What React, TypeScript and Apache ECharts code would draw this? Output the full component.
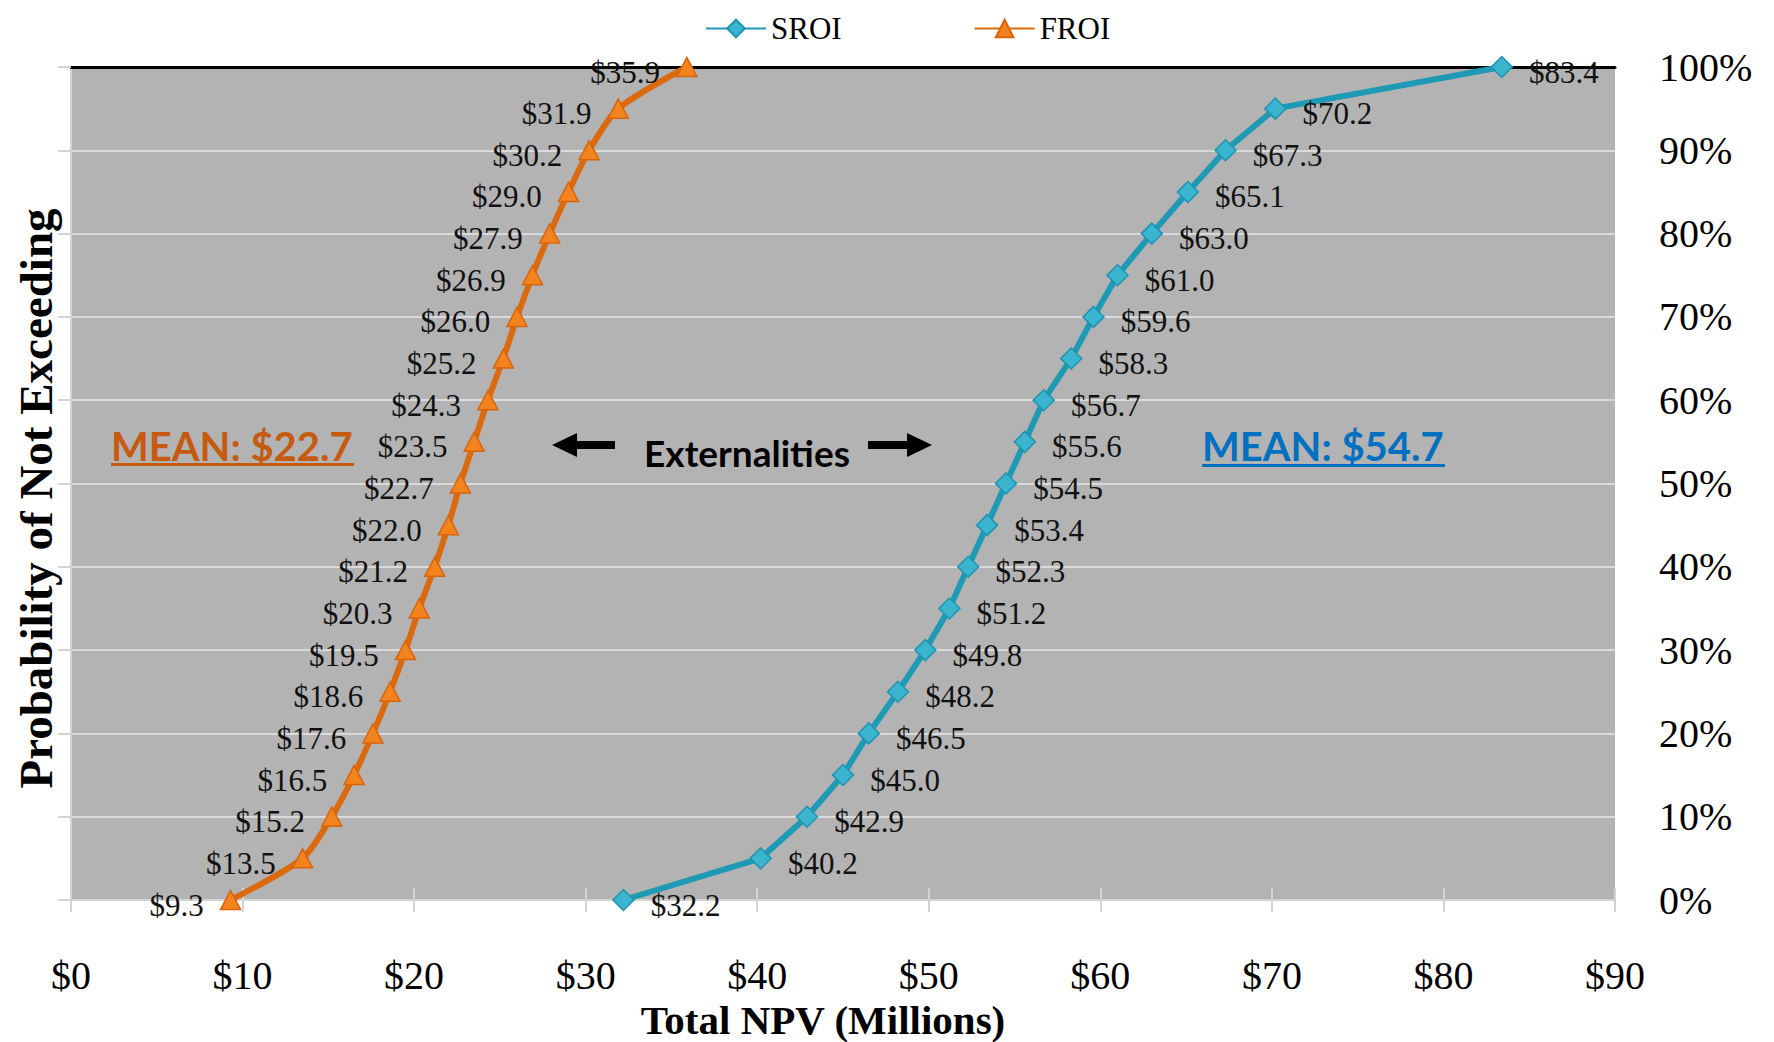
import React, { useEffect, useRef } from "react";
import * as echarts from "echarts";

const PROBABILITY = [0, 5, 10, 15, 20, 25, 30, 35, 40, 45, 50, 55, 60, 65, 70, 75, 80, 85, 90, 95, 100];
const SROI_VALUES = [32.2, 40.2, 42.9, 45.0, 46.5, 48.2, 49.8, 51.2, 52.3, 53.4, 54.5, 55.6, 56.7, 58.3, 59.6, 61.0, 63.0, 65.1, 67.3, 70.2, 83.4];
const FROI_VALUES = [9.3, 13.5, 15.2, 16.5, 17.6, 18.6, 19.5, 20.3, 21.2, 22.0, 22.7, 23.5, 24.3, 25.2, 26.0, 26.9, 27.9, 29.0, 30.2, 31.9, 35.9];
const SERIES_NAMES = ["SROI", "FROI"];
const X_TITLE = "Total NPV (Millions)";
const Y_TITLE = "Probability of Not Exceeding";
const MEAN_FROI = "MEAN: $22.7";
const MEAN_SROI = "MEAN: $54.7";
const CENTER_NOTE = "Externalities";

const SERIF = "'Liberation Serif', 'DejaVu Serif', serif";
const SANS = "Lato, 'Open Sans', sans-serif";
const LIGHT = "#D4D4D4";

export default function App() {
  const ref = useRef<HTMLDivElement>(null);

  useEffect(() => {
    if (!ref.current) return;
    const chart = echarts.init(ref.current, null, { renderer: "svg" });

    const sroiData = PROBABILITY.map((p, i) => [SROI_VALUES[i], p]);
    const froiData = PROBABILITY.map((p, i) => [FROI_VALUES[i], p]);

    const labelFmt = (p: any) => "$" + Number(p.value[0]).toFixed(1);

    chart.setOption({
      animation: false,
      backgroundColor: "#ffffff",
      grid: {
        left: 71,
        right: 159,
        top: 67,
        bottom: 142,
        containLabel: false,
        outerBoundsMode: "none",
        show: true,
        backgroundColor: "#B3B3B3",
        borderWidth: 0,
      },
      legend: {
        data: SERIES_NAMES,
        left: 700,
        top: 8,
        itemWidth: 60,
        itemHeight: 22,
        itemGap: 132,
        textStyle: { fontFamily: SERIF, fontSize: 31, color: "#000" },
      },
      xAxis: [
        {
          type: "value",
          position: "bottom",
          min: 0,
          max: 90,
          interval: 10,
          axisLine: { show: true, lineStyle: { color: LIGHT, width: 2 } },
          axisTick: { show: true, length: 12, lineStyle: { color: LIGHT, width: 2 } },
          axisLabel: {
            formatter: (v: number) => "$" + v,
            fontFamily: SERIF,
            fontSize: 40,
            color: "#000",
            margin: 55,
          },
          splitLine: { show: false },
          name: X_TITLE,
          nameLocation: "middle",
          nameGap: 93,
          nameTextStyle: {
            fontFamily: SERIF,
            fontWeight: "bold",
            fontSize: 41,
            color: "#000",
            padding: [0, 40, 0, 0],
          },
        },
        {
          type: "value",
          position: "bottom",
          min: 0,
          max: 90,
          interval: 10,
          axisLine: { show: false },
          axisTick: { show: true, inside: true, length: 12, lineStyle: { color: LIGHT, width: 2 } },
          axisLabel: { show: false },
          splitLine: { show: false },
        },
        {
          type: "value",
          position: "top",
          min: 0,
          max: 90,
          interval: 10,
          axisLine: { show: true, lineStyle: { color: "#000", width: 3 } },
          axisTick: { show: false },
          axisLabel: { show: false },
          splitLine: { show: false },
        },
      ],
      yAxis: [
        {
          type: "value",
          position: "right",
          min: 0,
          max: 100,
          interval: 10,
          axisLine: { show: true, lineStyle: { color: "#000", width: 2 } },
          axisTick: { show: false },
          axisLabel: {
            formatter: "{value}%",
            fontFamily: SERIF,
            fontSize: 40,
            color: "#000",
            margin: 44,
            padding: [14, 0, 0, 0],
          },
          splitLine: { show: true, lineStyle: { color: "#DADADA", width: 2 } },
        },
        {
          type: "value",
          position: "left",
          min: 0,
          max: 100,
          interval: 10,
          axisLine: { show: true, lineStyle: { color: LIGHT, width: 2 } },
          axisTick: { show: true, length: 13, lineStyle: { color: LIGHT, width: 2 } },
          axisLabel: { show: false },
          splitLine: { show: false },
          name: Y_TITLE,
          nameLocation: "middle",
          nameGap: 12,
          nameTextStyle: {
            fontFamily: SERIF,
            fontWeight: "bold",
            fontSize: 47,
            color: "#000",
            padding: [0, 30, 0, 0],
          },
        },
      ],
      series: [
        {
          name: SERIES_NAMES[0],
          type: "line",
          xAxisIndex: 0,
          yAxisIndex: 0,
          data: sroiData,
          symbol: "diamond",
          symbolSize: [21, 21],
          lineStyle: { color: "#1F9AB5", width: 6 },
          itemStyle: { color: "#3BB4D0", borderColor: "#1E94AF", borderWidth: 1.5 },
          label: {
            show: true,
            position: "right",
            distance: 16,
            offset: [0, 5],
            formatter: labelFmt,
            fontFamily: SERIF,
            fontSize: 31,
            color: "#111",
          },
          z: 3,
        },
        {
          name: SERIES_NAMES[1],
          type: "line",
          xAxisIndex: 0,
          yAxisIndex: 0,
          data: froiData,
          smooth: 0.25,
          symbol: "triangle",
          symbolSize: [20, 19],
          lineStyle: { color: "#DA6A0D", width: 6 },
          itemStyle: { color: "#F3831F", borderColor: "#D9650A", borderWidth: 1.5 },
          label: {
            show: true,
            position: "left",
            distance: 16,
            offset: [0, 5],
            formatter: labelFmt,
            fontFamily: SERIF,
            fontSize: 31,
            color: "#111",
          },
          z: 3,
        },
      ],
      graphic: [
        {
          type: "text",
          x: 111,
          y: 446,
          style: {
            text: MEAN_FROI,
            font: "bold 40px " + SANS,
            fill: "#C55A11",
            textVerticalAlign: "middle",
          },
          z: 10,
        },
        {
          type: "rect",
          shape: { x: 111, y: 463, width: 243, height: 3 },
          style: { fill: "#C55A11" },
          z: 10,
        },
        {
          type: "text",
          x: 1202,
          y: 446,
          style: {
            text: MEAN_SROI,
            font: "bold 40px " + SANS,
            fill: "#0070C0",
            textVerticalAlign: "middle",
          },
          z: 10,
        },
        {
          type: "rect",
          shape: { x: 1202, y: 464, width: 243, height: 3 },
          style: { fill: "#0070C0" },
          z: 10,
        },
        {
          type: "text",
          x: 747,
          y: 452,
          style: {
            text: CENTER_NOTE,
            font: "bold 37px " + SANS,
            fill: "#000",
            textAlign: "center",
            textVerticalAlign: "middle",
          },
          z: 10,
        },
        {
          type: "polygon",
          shape: {
            points: [[552, 445], [577, 433], [577, 441], [615, 441], [615, 449], [577, 449], [577, 457]],
          },
          style: { fill: "#000" },
          z: 10,
        },
        {
          type: "polygon",
          shape: {
            points: [[932, 445], [907, 433], [907, 441], [868, 441], [868, 449], [907, 449], [907, 457]],
          },
          style: { fill: "#000" },
          z: 10,
        },
      ],
    });

    return () => chart.dispose();
  }, []);

  return (
    <div
      ref={ref}
      style={{ position: "fixed", left: 0, top: 0, width: 1774, height: 1042, background: "#fff" }}
    />
  );
}
